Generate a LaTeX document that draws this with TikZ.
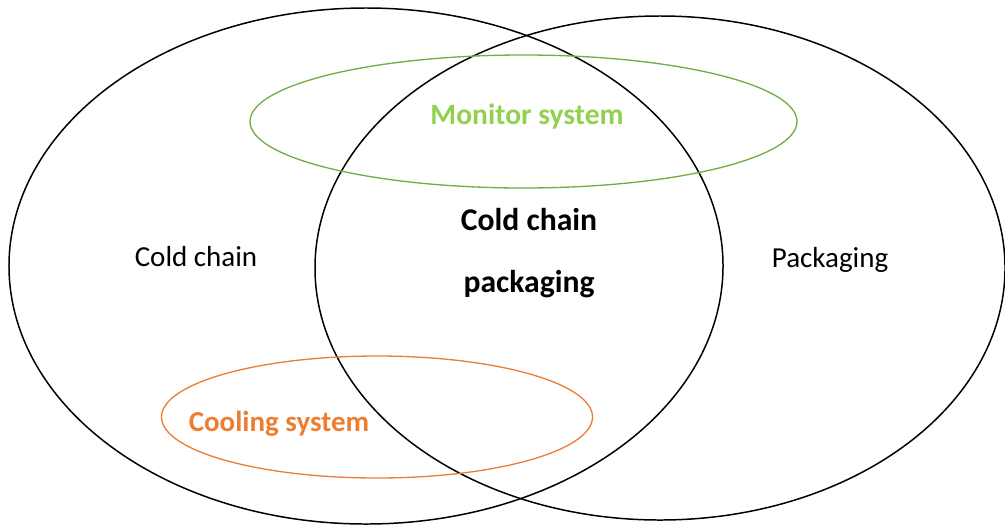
\documentclass[tikz,border=0pt]{standalone}
\usepackage{fontspec}
\setmainfont{Carlito}
\usepackage{tikz}
\usetikzlibrary{positioning,shapes.geometric}
\definecolor{monline}{HTML}{70AD47}
\definecolor{montext}{HTML}{92D050}
\definecolor{coolorange}{HTML}{ED7D31}
\tikzset{
  setring/.style={draw, ellipse, inner sep=0pt, line width=0.85pt},
  subring/.style={draw, ellipse, inner sep=0pt, line width=0.75pt},
  label/.style={align=center, font=\fontsize{16.5}{20}\selectfont}
}

\begin{document}
\begin{tikzpicture}[x=0.2mm, y=0.2mm]
  \useasboundingbox (0,0) rectangle (1005,524);

  % the two big sets
  \node[setring, minimum width=142.8mm, minimum height=103.2mm] (coldset) at (366,258) {};
  \node[setring, minimum width=138mm, minimum height=100.8mm] (packset) at (660,256) {};

  % the two sub-systems
  \node[subring, draw=monline, minimum width=109.4mm, minimum height=26.6mm] (monring) at (523.5,402.5) {};
  \node[subring, draw=coolorange, minimum width=86.2mm, minimum height=24.4mm] (coolring) at (377,107) {};

  \node[label] (coldlabel) at (196,267) {Cold chain};
  \node[label] (packlabel) at (830,264) {Packaging};
  \node[label, font=\fontsize{18}{35.7}\selectfont\bfseries] (overlap) at (529,271) {Cold chain\\packaging};
  \node[label, font=\fontsize{16.8}{20}\selectfont\bfseries, text=montext] (monlabel) at (527,408) {Monitor system};
  \node[label, font=\fontsize{16.5}{20}\selectfont\bfseries, text=coolorange] (coollabel) at (279,100) {Cooling system};
\end{tikzpicture}
\end{document}
